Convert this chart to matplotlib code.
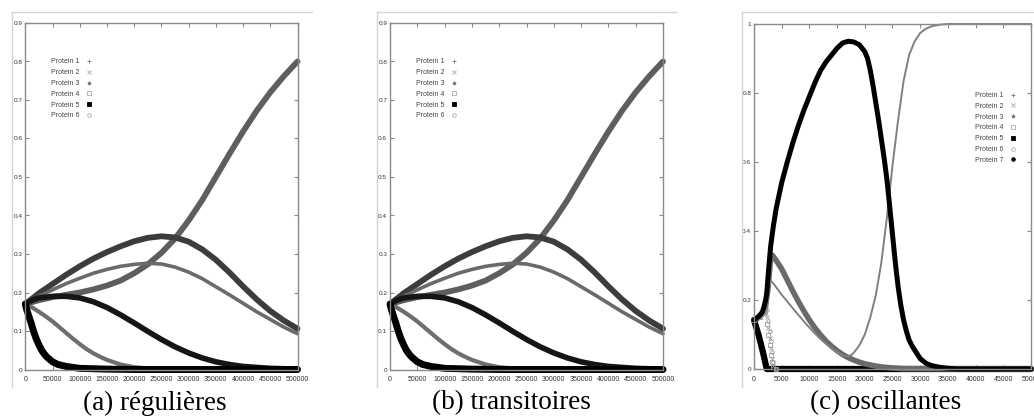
import numpy as np
import matplotlib
matplotlib.use("Agg")
from matplotlib import pyplot as plt
from matplotlib.lines import Line2D

# ---- data (panels a and b show the same run) ----
t_25k = [0, 25000, 50000, 75000, 100000, 125000, 150000, 175000, 200000, 225000, 250000,
         275000, 300000, 325000, 350000, 375000, 400000, 425000, 450000, 475000, 500000]
p1_a = [0.17, 0.18, 0.188, 0.194, 0.2, 0.208, 0.218, 0.231, 0.25, 0.273, 0.303,
        0.34, 0.387, 0.44, 0.5, 0.56, 0.618, 0.672, 0.72, 0.762, 0.80]
p3_a = [0.17, 0.198, 0.222, 0.246, 0.268, 0.288, 0.305, 0.32, 0.333, 0.342, 0.346,
        0.343, 0.332, 0.312, 0.285, 0.252, 0.216, 0.182, 0.152, 0.127, 0.106]
p2_a = [0.17, 0.19, 0.207, 0.223, 0.237, 0.25, 0.26, 0.268, 0.273, 0.276, 0.274,
        0.266, 0.253, 0.236, 0.215, 0.194, 0.172, 0.15, 0.13, 0.11, 0.093]

t_d = [0, 12500, 25000, 50000, 75000, 100000, 125000, 150000, 175000, 200000, 225000,
       250000, 275000, 300000, 325000, 350000, 375000, 400000, 450000, 500000]
p6_a = [0.17, 0.18, 0.186, 0.19, 0.19, 0.186, 0.176, 0.161, 0.142, 0.121, 0.099,
        0.078, 0.059, 0.043, 0.03, 0.02, 0.013, 0.008, 0.003, 0.001]

t_e = [0, 12500, 25000, 37500, 50000, 62500, 75000, 87500, 100000, 112500, 125000,
       137500, 150000, 175000, 200000, 225000, 250000, 300000, 500000]
p4_a = [0.17, 0.161, 0.15, 0.138, 0.125, 0.11, 0.095, 0.08, 0.066, 0.053, 0.042,
        0.033, 0.025, 0.013, 0.006, 0.003, 0.001, 0, 0]

t_f = [0, 2500, 5000, 7500, 10000, 15000, 20000, 25000, 30000, 35000, 40000, 50000,
       60000, 75000, 100000, 150000, 200000, 500000]
p5_a = [0.17, 0.156, 0.145, 0.134, 0.124, 0.1, 0.08, 0.064, 0.05, 0.04, 0.032, 0.02,
        0.013, 0.008, 0.003, 0.001, 0, 0]

# ---- panel c (oscillating) ----
t7 = [0, 500, 1000, 1500, 1800, 2100, 2300, 2500, 2700, 3000, 3500, 4000, 5000, 6000,
      7000, 8000, 9000, 10000, 11000, 12000, 13000, 14000, 15000, 16000, 17000, 18000,
      19000, 20000, 20500, 21000, 21500, 22000, 22500, 23000, 23500, 24000, 24500,
      25000, 25500, 26000, 26500, 27000, 27500, 28000, 28500, 29000, 30000, 31000,
      32000, 33500, 35000, 37000, 50000]
p7_c = [0.142, 0.148, 0.155, 0.165, 0.18, 0.2, 0.22, 0.26, 0.3, 0.355, 0.415, 0.465,
        0.54, 0.6, 0.655, 0.705, 0.75, 0.79, 0.83, 0.865, 0.89, 0.91, 0.93, 0.945,
        0.95, 0.948, 0.94, 0.92, 0.9, 0.865, 0.82, 0.77, 0.72, 0.665, 0.61, 0.548,
        0.47, 0.39, 0.31, 0.24, 0.185, 0.142, 0.11, 0.084, 0.068, 0.055, 0.03, 0.017,
        0.01, 0.005, 0.002, 0, 0]

t1 = [0, 1000, 2000, 2500, 2900, 3500, 4000, 5000, 6000, 7000, 8000, 9000, 10000,
      11000, 12000, 13000, 14000, 15000, 16000, 16700, 17500, 18000, 19000, 20000,
      21000, 22000, 23000, 24000, 25000, 26000, 27000, 28000, 29000, 30000, 31000,
      32000, 33500, 35000, 50000]
p1_c = [0.142, 0.15, 0.165, 0.2, 0.258, 0.248, 0.237, 0.215, 0.196, 0.176, 0.157,
        0.138, 0.12, 0.103, 0.087, 0.073, 0.06, 0.049, 0.04, 0.037, 0.04, 0.047,
        0.068, 0.1, 0.15, 0.215, 0.31, 0.44, 0.59, 0.72, 0.835, 0.91, 0.95, 0.974,
        0.986, 0.993, 0.998, 1.0, 1.0]

t3 = [0, 1000, 2000, 2500, 3000, 3300, 4000, 5000, 6000, 7000, 8000, 9000, 10000,
      11000, 12000, 13000, 14000, 15000, 16000, 17000, 18000, 19000, 20000, 21500,
      23000, 25000, 27000, 50000]
p3_c = [0.142, 0.15, 0.17, 0.23, 0.32, 0.33, 0.315, 0.29, 0.258, 0.226, 0.196, 0.168,
        0.142, 0.119, 0.099, 0.081, 0.066, 0.053, 0.042, 0.033, 0.026, 0.02, 0.015,
        0.01, 0.006, 0.003, 0.001, 0]

t5 = [0, 800, 1600, 2300, 50000]
p5_c = [0.142, 0.1, 0.05, 0, 0]

t_drop = [0, 1000, 2000, 2400, 2600, 2800, 3000, 3200, 3500, 4000]
p2_c = [0.142, 0.155, 0.17, 0.15, 0.12, 0.09, 0.06, 0.03, 0.01, 0]
p6_c = [0.142, 0.15, 0.16, 0.17, 0.14, 0.11, 0.08, 0.05, 0.02, 0]
p4_c = [0.142, 0.15, 0.165, 0.13, 0.1, 0.07, 0.04, 0.02, 0.005, 0]

names6 = ["Protein 1", "Protein 2", "Protein 3", "Protein 4", "Protein 5", "Protein 6"]
names7 = names6 + ["Protein 7"]
captions = ["(a) régulières", "(b) transitoires", "(c) oscillantes"]

W, H = 1034, 419
fig = plt.figure(figsize=(W / 100, H / 100), dpi=100)
fig.patch.set_facecolor("white")

small = ["Liberation Sans", "DejaVu Sans"]


def px_axes(x0, x1, ytop, ybot):
    return fig.add_axes([x0 / W, 1 - ybot / H, (x1 - x0) / W, (ybot - ytop) / H])


def style(ax):
    for s in ax.spines.values():
        s.set_color("#8a8a8a")
        s.set_linewidth(1.0)
    ax.tick_params(direction="in", length=3, width=0.8, color="#8a8a8a",
                   top=True, right=True, labelcolor="#333333")
    ax.tick_params(axis="x", pad=5, labelsize=5.0)
    ax.tick_params(axis="y", pad=2, labelsize=4.6)
    for lab in ax.get_xticklabels() + ax.get_yticklabels():
        lab.set_family(small)


def legend_handles(n):
    spec = [("+", "#777777", "none"), ("x", "#aaaaaa", "none"), ("*", "#777777", "#777777"),
            ("s", "#aaaaaa", "none"), ("s", "black", "black"), ("o", "#aaaaaa", "none"),
            ("o", "black", "black")]
    hs = []
    for m, c, fc in spec[:n]:
        hs.append(Line2D([], [], ls="none", marker=m, color=c, markerfacecolor=fc,
                         markersize=2.6, markeredgewidth=0.6))
    return hs


def add_legend(ax, n, labels, x, y):
    leg = ax.legend(legend_handles(n), labels, loc="upper left", bbox_to_anchor=(x, y),
                    markerfirst=False, frameon=False, borderaxespad=0, borderpad=0,
                    handlelength=1.0, handletextpad=0.9, labelspacing=0.55,
                    prop={"family": small, "size": 5.0})
    for txt in leg.get_texts():
        txt.set_color("#444444")


def panel_ab(x0, x1):
    ax = px_axes(x0, x1, 23, 369.5)
    kw = dict(solid_capstyle="round", solid_joinstyle="round", clip_on=False)
    ax.plot(t_25k, p1_a, color="#5e5e5e", lw=4.2, **kw)
    ax.plot(t_25k, p3_a, color="#3c3c3c", lw=4.2, **kw)
    ax.plot(t_25k, p2_a, color="#6a6a6a", lw=2.6, **kw)
    ax.plot(t_e, p4_a, color="#6e6e6e", lw=3.0, **kw)
    ax.plot(t_d, p6_a, color="#151515", lw=4.0, **kw)
    ax.plot(t_f, p5_a, color="black", lw=5.0, **kw)
    ax.set_xlim(0, 500000)
    ax.set_ylim(0, 0.9)
    ax.set_xticks(np.arange(0, 500001, 50000))
    ax.set_xticklabels([str(v) for v in range(0, 500001, 50000)])
    ax.set_yticks(np.arange(0, 0.91, 0.1))
    ax.set_yticklabels(["0"] + ["%.1f" % v for v in np.arange(0.1, 0.91, 0.1)])
    style(ax)
    add_legend(ax, 6, names6, 0.094, 0.898)
    return ax


panel_ab(25.3, 297.5)
panel_ab(390, 663)

# panel c
axc = px_axes(754, 1031, 24, 369)
kw = dict(solid_capstyle="round", solid_joinstyle="round", clip_on=False)
axc.plot(t5, p5_c, color="black", lw=4.5, **kw)
axc.plot(t3, p3_c, color="#6a6a6a", lw=4.0, **kw)
axc.plot(t1, p1_c, color="#808080", lw=1.4, **kw)
axc.plot(t_drop, p2_c, ls="none", marker="x", ms=2.5, mew=0.6, color="#9a9a9a", clip_on=False)
axc.plot(t_drop, p6_c, ls="none", marker="o", ms=2.5, mew=0.6, color="#9a9a9a",
         markerfacecolor="none", clip_on=False)
axc.plot(t_drop, p4_c, ls="none", marker="s", ms=2.2, mew=0.6, color="#9a9a9a",
         markerfacecolor="none", clip_on=False)
axc.plot(t7, p7_c, color="black", lw=3.6, **kw)
axc.set_xlim(0, 50000)
axc.set_ylim(0, 1)
axc.set_xticks(np.arange(0, 50001, 5000))
axc.set_xticklabels([str(v) for v in range(0, 50001, 5000)])
axc.set_yticks([0, 0.2, 0.4, 0.6, 0.8, 1.0])
axc.set_yticklabels(["0", "0.2", "0.4", "0.6", "0.8", "1"])
style(axc)
add_legend(axc, 7, names7, 0.798, 0.803)

# light frames of the three screenshots
frame = "#d4d4d4"
for xl, xr in [(11.7, 312), (377, 677), (742, 1034)]:
    fig.add_artist(Line2D([xl / W, xr / W], [1 - 11.7 / H] * 2, color=frame, lw=1.0))
    fig.add_artist(Line2D([xl / W] * 2, [1 - 11.7 / H, 1 - 387 / H], color=frame, lw=1.0))

# captions
for cx, cap in zip([155, 511.5, 886], captions):
    fig.text(cx / W, 9.5 / H, cap, ha="center", va="baseline", fontsize=19.5,
             family=["Liberation Serif", "DejaVu Serif"])

fig.savefig("out.png", dpi=100)
